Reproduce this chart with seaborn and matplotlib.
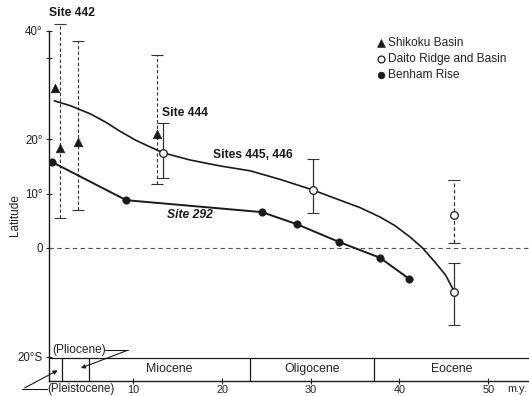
import matplotlib.pyplot as plt
import seaborn as sns

# Shikoku Basin (triangles), first one has no visible error bar
shikoku_age = [1.2, 1.7, 3.8, 12.7]
shikoku_lat = [29.5, 18.4, 19.5, 21.0]
shikoku_top = [None, 41.3, 38.1, 35.5]
shikoku_bottom = [None, 5.5, 7.0, 11.8]

# Daito Ridge and Basin (open circles)
daito_age = [13.4, 30.2, 46.2, 46.2]
daito_lat = [17.5, 10.7, 6.1, -8.1]
daito_top = [23.0, 16.4, 12.5, -2.8]
daito_bottom = [12.9, 6.4, 0.9, -14.2]
daito_dashed = [False, False, True, False]

# Benham Rise (filled circles), Site 292 path
benham_age = [0.87, 9.2, 24.5, 28.4, 33.2, 37.8, 41.1]
benham_lat = [15.8, 8.8, 6.6, 4.4, 1.1, -1.8, -5.7]

# Sites 445, 446 curve
curve_age = [1.1, 2.9, 5.15, 6.85, 8.5, 10.2, 11.9, 13.4, 16.4, 19.8, 23.2, 26.6, 30.2,
             33.3, 35.6, 37.8, 39.5, 41.2, 42.6, 44.0, 45.2, 46.2]
curve_lat = [27.1, 26.2, 24.7, 23.2, 21.5, 19.9, 18.6, 17.5, 16.2, 15.1, 14.2, 12.6, 10.7,
             8.8, 7.4, 5.7, 4.1, 2.0, 0.0, -2.6, -5.0, -8.1]

# time scale
epoch_edges = [0.5, 2.0, 5.0, 23.2, 37.1, 54.6]
epoch_names = ['', '', 'Miocene', 'Oligocene', 'Eocene']

lat_ticks = [-20, 0, 10, 20, 40]
lat_labels = ['20°S', '0', '10°', '20°', '40°']
age_ticks = [10, 20, 30, 40, 50]

sns.set_style('white')
plt.rcParams['font.family'] = ['Liberation Sans', 'DejaVu Sans']

ink = '#1a1a1a'
txt = '#222222'
fig = plt.figure(figsize=(5.29, 3.96), dpi=100)
ax = fig.add_axes([49/529, 15/396, 480/529, 377.4/396])
ax.set_xlim(0.5, 54.6)
ax.set_ylim(-24.5, 45)

# zero line
ax.axhline(0, color='#555555', lw=0.8, ls=(0, (4, 3)), zorder=1)

# error bars
for a, l, t, b in zip(shikoku_age, shikoku_lat, shikoku_top, shikoku_bottom):
    if t is None:
        continue
    eb = ax.errorbar(a, l, yerr=[[l - b], [t - l]], fmt='none', ecolor='#333333',
                     elinewidth=0.8, capsize=4, capthick=0.8, zorder=2)
    eb[2][0].set_linestyle((0, (3, 2)))
for a, l, t, b, d in zip(daito_age, daito_lat, daito_top, daito_bottom, daito_dashed):
    eb = ax.errorbar(a, l, yerr=[[l - b], [t - l]], fmt='none', ecolor='#333333',
                     elinewidth=0.9, capsize=4, capthick=0.8, zorder=2)
    if d:
        eb[2][0].set_linestyle((0, (3, 2)))

# curves
sns.lineplot(x=curve_age, y=curve_lat, color=ink, lw=1.2, estimator=None, sort=False, ax=ax, zorder=3)
sns.lineplot(x=benham_age, y=benham_lat, color=ink, lw=1.4, estimator=None, sort=False, ax=ax, zorder=3)

# points
sns.scatterplot(x=shikoku_age, y=shikoku_lat, marker='^', s=38, color=ink, edgecolor=ink,
                linewidth=0.5, label='Shikoku Basin', ax=ax, zorder=5)
sns.scatterplot(x=daito_age, y=daito_lat, marker='o', s=30, color='white', edgecolor=ink,
                linewidth=0.9, label='Daito Ridge and Basin', ax=ax, zorder=5)
sns.scatterplot(x=benham_age, y=benham_lat, marker='o', s=28, color=ink, edgecolor=ink,
                linewidth=0.5, label='Benham Rise', ax=ax, zorder=5)

ax.legend(loc='upper left', bbox_to_anchor=(0.672, 0.928), frameon=False, fontsize=8.6,
          handlelength=0.5, handletextpad=0.35, labelspacing=0.35, borderpad=0,
          markerscale=0.9, labelcolor=txt)

# site labels
fs = 8.7
ax.text(3.1, 43.2, 'Site 442', fontsize=fs, fontweight='bold', ha='center', va='center', color=ink)
ax.text(15.8, 24.9, 'Site 444', fontsize=fs, fontweight='bold', ha='center', va='center', color=ink)
ax.text(23.5, 17.1, 'Sites 445, 446', fontsize=fs, fontweight='bold', ha='center', va='center', color=ink)
ax.text(16.4, 6.1, 'Site 292', fontsize=fs, fontweight='bold', style='italic', ha='center', va='center', color=ink)

# geological time bar
ax.plot([0.5, 54.6], [-20.2, -20.2], color=ink, lw=0.9, clip_on=False)
for e in epoch_edges[1:-1]:
    ax.plot([e, e], [-24.5, -20.2], color=ink, lw=0.9)
for lo, hi, name in zip(epoch_edges[:-1], epoch_edges[1:], epoch_names):
    if name:
        ax.text((lo + hi) / 2, -22.35, name, fontsize=8.8, ha='center', va='center', color=txt)

# (Pliocene) / (Pleistocene) leaders
ax.text(0.9, -18.8, '(Pliocene)', fontsize=8.6, ha='left', va='center', color=txt)
ax.plot([6.85, 9.44], [-18.8, -18.8], color=ink, lw=0.8)
ax.annotate('', xy=(3.8, -22.3), xytext=(9.44, -18.8),
            arrowprops=dict(arrowstyle='-|>', color=ink, lw=0.8, mutation_scale=6))
ax.text(0.3, -26.0, '(Pleistocene)', fontsize=8.3, ha='left', va='center', color=txt, clip_on=False)
ax.plot([-2.5, 0.3], [-26.0, -26.0], color=ink, lw=0.8, clip_on=False)
ax.annotate('', xy=(1.75, -22.3), xytext=(-2.5, -26.0), annotation_clip=False,
            arrowprops=dict(arrowstyle='-|>', color=ink, lw=0.8, mutation_scale=6))
ax.text(52.2, -26.0, 'm.y.', fontsize=7.8, ha='left', va='center', color=txt, clip_on=False)

# axes
sns.despine(ax=ax, top=True, right=True)
ax.spines['left'].set_bounds(-24.5, 40)
for side in ['left', 'bottom']:
    ax.spines[side].set_color(ink)
    ax.spines[side].set_linewidth(1.0)
ax.set_yticks(lat_ticks)
ax.set_yticklabels(lat_labels)
ax.set_yticks([35], minor=True)
ax.set_xticks(age_ticks)
ax.set_xticklabels([str(t) for t in age_ticks])
ax.tick_params(axis='y', which='both', direction='inout', length=5, width=0.8, pad=2,
               labelsize=8.3, colors=txt, left=True)
ax.tick_params(axis='x', direction='inout', length=5, width=0.8, pad=0.3,
               labelsize=7.8, colors=txt, bottom=True)
ax.set_ylabel('Latitude', fontsize=8.5, color=txt)
ax.yaxis.set_label_coords(-0.058, 0.44)
ax.set_xlabel('')

fig.savefig('out.png', dpi=100)
